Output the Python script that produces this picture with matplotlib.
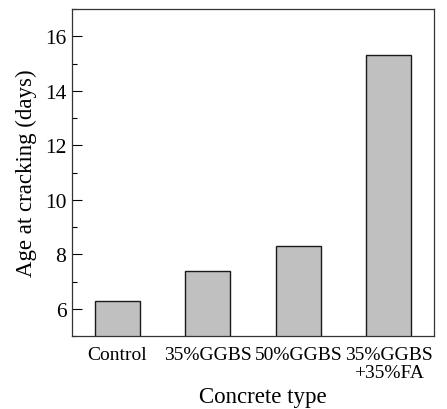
import matplotlib
matplotlib.use("Agg")
import matplotlib.pyplot as plt
import numpy as np
from matplotlib.ticker import MultipleLocator

# data
concrete_types = ["Control", "35%GGBS", "50%GGBS", "35%GGBS\n+35%FA"]
age_at_cracking = [6.3, 7.4, 8.3, 15.3]

plt.rcParams["font.family"] = ["Liberation Serif", "DejaVu Serif"]

fig = plt.figure(figsize=(4.47, 4.10), dpi=100)
ax = fig.add_axes([72 / 447, 1 - 337 / 410, 362 / 447, 327 / 410])

x = np.arange(len(concrete_types))
ax.bar(x, age_at_cracking, width=0.5, color="#c0c0c0", edgecolor="#1a1a1a", linewidth=1.0)

ax.set_xlim(-0.5, 3.5)
ax.set_ylim(5, 17)
ax.set_xticks(x)
ax.set_xticklabels(concrete_types, fontsize=14, linespacing=1.1)
ax.yaxis.set_major_locator(MultipleLocator(2))
ax.yaxis.set_minor_locator(MultipleLocator(1))
ax.tick_params(axis="y", which="major", direction="in", length=7, width=0.8, labelsize=15.5, pad=4)
ax.tick_params(axis="y", which="minor", direction="in", length=3.5, width=0.8)
ax.tick_params(axis="x", which="both", length=0, pad=7)

for sp in ax.spines.values():
    sp.set_color("#333333")
    sp.set_linewidth(0.9)

ax.set_xlabel("Concrete type", fontsize=16.5)
ax.xaxis.set_label_coords(0.528, -0.152)
ax.set_ylabel("Age at cracking (days)", fontsize=16.5)
ax.yaxis.set_label_coords(-0.097, 0.5)

fig.savefig("out.png", dpi=100)
